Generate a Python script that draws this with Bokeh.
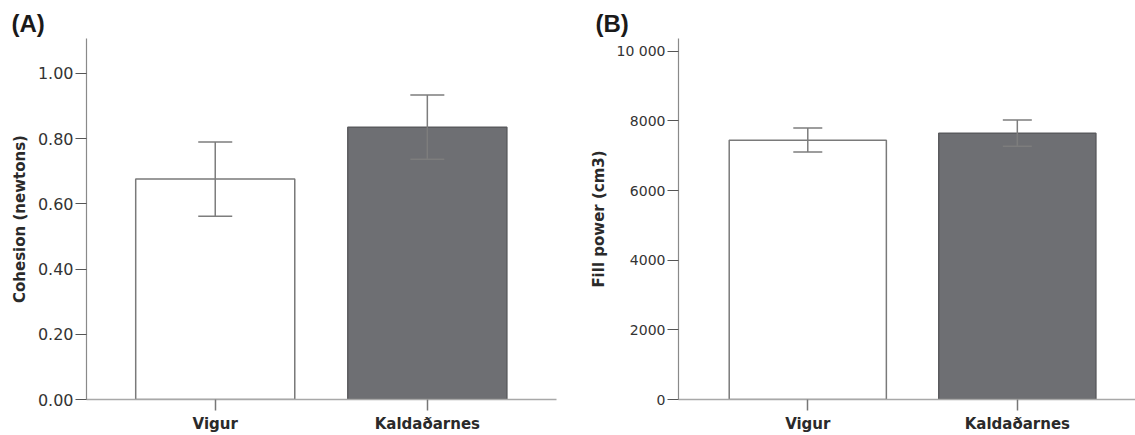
from bokeh.plotting import figure
from bokeh.models import ColumnDataSource, Range1d, FixedTicker, Whisker, TeeHead, Title
from bokeh.layouts import row
from bokeh.embed import file_html
from bokeh.resources import INLINE

# ---- data ----
sites = ["Vigur", "Kaldaðarnes"]
bar_colors = ["#ffffff", "#6e6f73"]
bar_lines = ["#7a7a7a", "#5a5b5e"]

cohesion_mean = [0.676, 0.835]
cohesion_upper = [0.790, 0.934]
cohesion_lower = [0.562, 0.737]
cohesion_ticks = [0.0, 0.2, 0.4, 0.6, 0.8, 1.0]

fill_mean = [7445, 7646]
fill_upper = [7798, 8028]
fill_lower = [7109, 7273]
fill_ticks = [0, 2000, 4000, 6000, 8000, 10000]

FONT = "DejaVu Sans"
H = 435


def make_panel(title, ylabel, mean, upper, lower, yticks, ymax, xr, width,
               bl, br, bt, bb, tick_fmt, tick_size, cap, title_offset):
    xs = [i + 0.5 for i in range(len(sites))]
    src = ColumnDataSource(dict(x=xs, top=mean, upper=upper, lower=lower,
                                fill=bar_colors, line=bar_lines))
    p = figure(width=width, height=H, output_backend="svg", toolbar_location=None,
               x_range=Range1d(*xr), y_range=Range1d(0, ymax),
               min_border_left=bl, min_border_right=br, min_border_top=bt,
               min_border_bottom=bb)
    p.title = Title(text=title, align="left", offset=title_offset, standoff=3,
                    text_font="Liberation Sans", text_font_style="bold",
                    text_font_size="24px", text_color="#1a1a1a")
    p.outline_line_color = None
    p.xgrid.visible = False
    p.ygrid.visible = False

    p.vbar(x="x", top="top", width=0.75, bottom=0, source=src,
           fill_color="fill", line_color="line", line_width=1.5)
    w = Whisker(base="x", upper="upper", lower="lower", source=src, level="overlay",
                line_color="#7d7d7d", line_width=1.5,
                upper_head=TeeHead(size=cap, line_color="#7d7d7d", line_width=1.5),
                lower_head=TeeHead(size=cap, line_color="#7d7d7d", line_width=1.5))
    p.add_layout(w)

    # x axis
    p.xaxis.ticker = FixedTicker(ticks=xs)
    p.xaxis.major_label_overrides = {x: s for x, s in zip(xs, sites)}
    p.xaxis.axis_line_color = "#a8a8a8"
    p.xaxis.axis_line_width = 1.5
    p.xaxis.major_tick_line_color = "#777777"
    p.xaxis.major_tick_line_width = 1.5
    p.xaxis.major_tick_out = 11
    p.xaxis.major_tick_in = 0
    p.xaxis.minor_tick_line_color = None
    p.xaxis.major_label_standoff = 4
    p.xaxis.major_label_text_font = FONT
    p.xaxis.major_label_text_font_style = "bold"
    p.xaxis.major_label_text_font_size = "15px"
    p.xaxis.major_label_text_color = "#2a2a2a"

    # y axis
    p.yaxis.ticker = FixedTicker(ticks=yticks)
    p.yaxis.major_label_overrides = {t: tick_fmt(t) for t in yticks}
    p.yaxis.axis_line_color = "#8a8a8a"
    p.yaxis.axis_line_width = 1.2
    p.yaxis.major_tick_line_color = "#555555"
    p.yaxis.major_tick_line_width = 1.2
    p.yaxis.major_tick_out = 11
    p.yaxis.major_tick_in = 0
    p.yaxis.minor_tick_line_color = None
    p.yaxis.major_label_standoff = 2
    p.yaxis.major_label_text_font = FONT
    p.yaxis.major_label_text_font_size = tick_size
    p.yaxis.major_label_text_color = "#333333"
    p.yaxis.axis_label = ylabel
    p.yaxis.axis_label_text_font = FONT
    p.yaxis.axis_label_text_font_style = "bold"
    p.yaxis.axis_label_text_font_size = "15px"
    p.yaxis.axis_label_text_color = "#2a2a2a"
    p.yaxis.axis_label_standoff = 6
    return p


pa = make_panel("(A)", "Cohesion (newtons)", cohesion_mean, cohesion_upper, cohesion_lower,
                cohesion_ticks, 1.107, (-0.107, 2.109), 568, 86, 12, 38, 35,
                lambda t: f"{t:.2f}", "16px", 34, -75)
pb = make_panel("(B)", "Fill power (cm3)", fill_mean, fill_upper, fill_lower,
                fill_ticks, 10365, (-0.117, 2.064), 567, 110, 0, 38, 36,
                lambda t: "10 000" if t == 10000 else f"{t:d}", "14px", 29, -83)

layout = row(pa, pb)
open("out.html", "w").write(file_html(layout, INLINE))
